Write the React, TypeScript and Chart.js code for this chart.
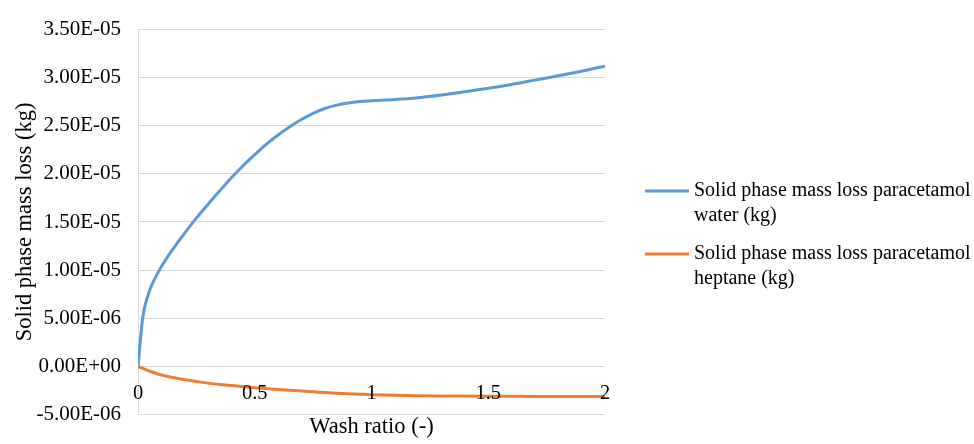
import React, { useEffect, useRef } from "react";
import { Chart, registerables } from "chart.js";

Chart.register(...registerables);

const washRatio = [0, 0.02, 0.05, 0.075, 0.1, 0.15, 0.2, 0.25, 0.3, 0.35, 0.4, 0.45, 0.5, 0.55, 0.6, 0.65, 0.7, 0.75, 0.8, 0.85, 0.9, 0.95, 1.0, 1.1, 1.2, 1.3, 1.4, 1.5, 1.6, 1.7, 1.8, 1.9, 2.0];
const lossWater = [0, 5.0e-6, 7.9e-6, 9.25e-6, 1.035e-5, 1.22e-5, 1.385e-5, 1.54e-5, 1.685e-5, 1.825e-5, 1.96e-5, 2.085e-5, 2.2e-5, 2.31e-5, 2.405e-5, 2.49e-5, 2.565e-5, 2.63e-5, 2.68e-5, 2.715e-5, 2.738e-5, 2.752e-5, 2.76e-5, 2.773e-5, 2.792e-5, 2.82e-5, 2.853e-5, 2.89e-5, 2.93e-5, 2.975e-5, 3.02e-5, 3.068e-5, 3.12e-5];
const lossHeptane = [0, -2.2e-7, -5.0e-7, -7.2e-7, -9.0e-7, -1.17e-6, -1.4e-6, -1.58e-6, -1.75e-6, -1.88e-6, -2.0e-6, -2.11e-6, -2.22e-6, -2.32e-6, -2.42e-6, -2.5e-6, -2.58e-6, -2.65e-6, -2.72e-6, -2.79e-6, -2.85e-6, -2.9e-6, -2.95e-6, -3.01e-6, -3.05e-6, -3.08e-6, -3.1e-6, -3.11e-6, -3.12e-6, -3.13e-6, -3.13e-6, -3.14e-6, -3.14e-6];
const seriesLabels = [
  ["Solid phase mass loss paracetamol", "water (kg)"],
  ["Solid phase mass loss paracetamol", "heptane (kg)"],
];
const seriesColors = ["#5B9BD5", "#ED7D31"];
const xTicks = [0, 0.5, 1, 1.5, 2];
const xTickLabels = ["0", "0.5", "1", "1.5", "2"];
const yMin = -5e-6;
const yMax = 3.5e-5;
const yStep = 5e-6;
const xTitle = "Wash ratio (-)";
const yTitle = "Solid phase mass loss (kg)";

const FONT = "'Liberation Serif', 'Times New Roman', serif";

function fmtSci(v: number): string {
  if (Math.abs(v) < 1e-12) return "0.00E+00";
  const s = v.toExponential(2);
  const [m, e] = s.split("e");
  const sign = e[0];
  const d = e.slice(1).padStart(2, "0");
  return m + "E" + sign + d;
}

const overlayPlugin = {
  id: "overlay",
  afterDraw(chart: any) {
    const ctx = chart.ctx;
    const xs = chart.scales.x;
    const ys = chart.scales.y;
    ctx.save();
    // x tick labels along zero line
    ctx.font = `20.5px ${FONT}`;
    ctx.fillStyle = "#000";
    ctx.textAlign = "center";
    ctx.textBaseline = "middle";
    const y0 = ys.getPixelForValue(0);
    xTicks.forEach((t, i) => {
      ctx.fillText(xTickLabels[i], xs.getPixelForValue(t), y0 + 27);
    });
    // legend
    const legendTops = [191, 254];
    ctx.font = `20px ${FONT}`;
    ctx.textAlign = "left";
    chart.data.datasets.forEach((ds: any, i: number) => {
      const ly = legendTops[i];
      ctx.strokeStyle = ds.borderColor;
      ctx.lineWidth = 3;
      ctx.beginPath();
      ctx.moveTo(645, ly);
      ctx.lineTo(689, ly);
      ctx.stroke();
      const lines: string[] = seriesLabels[i];
      lines.forEach((ln, j) => {
        ctx.fillText(ln, 694, ly + j * 25);
      });
    });
    ctx.restore();
  },
};

export default function App() {
  const ref = useRef<HTMLCanvasElement>(null);
  useEffect(() => {
    if (!ref.current) return;
    const mk = (ys: number[]) => washRatio.map((x, i) => ({ x, y: ys[i] }));
    const chart = new Chart(ref.current, {
      type: "line",
      data: {
        datasets: [
          {
            label: seriesLabels[0].join(" "),
            data: mk(lossWater),
            borderColor: seriesColors[0],
            backgroundColor: seriesColors[0],
            borderWidth: 3,
            pointRadius: 0,
            cubicInterpolationMode: "monotone",
            fill: false,
          },
          {
            label: seriesLabels[1].join(" "),
            data: mk(lossHeptane),
            borderColor: seriesColors[1],
            backgroundColor: seriesColors[1],
            borderWidth: 3,
            pointRadius: 0,
            cubicInterpolationMode: "monotone",
            fill: false,
          },
        ],
      },
      options: {
        animation: false,
        responsive: false,
        maintainAspectRatio: false,
        layout: { padding: { left: 0, right: 369, top: 24, bottom: 0 } },
        plugins: {
          legend: { display: false },
          tooltip: { enabled: false },
        },
        scales: {
          x: {
            type: "linear",
            min: 0,
            max: 2,
            grid: { display: false, drawTicks: false },
            border: { display: false },
            ticks: { display: false, stepSize: 0.5 },
            title: {
              display: true,
              text: xTitle,
              color: "#000",
              font: { family: FONT, size: 22.5 },
              padding: { top: 0, bottom: 3 },
            },
            afterFit: (s: any) => {
              s.height = 29;
            },
          },
          y: {
            type: "linear",
            min: yMin,
            max: yMax,
            grid: { color: "#D9D9D9", lineWidth: 1, drawTicks: false },
            border: { display: true, color: "#D9D9D9", width: 1 },
            ticks: {
              stepSize: yStep,
              padding: 17,
              color: "#000",
              font: { family: FONT, size: 21 },
              callback: (v: any) => fmtSci(Number(v)),
            },
            title: {
              display: true,
              text: yTitle,
              color: "#000",
              font: { family: FONT, size: 22.5 },
              padding: { top: 12, bottom: 0 },
            },
            afterFit: (s: any) => {
              s.width = 138;
            },
          },
        },
      },
      plugins: [overlayPlugin],
    });
    return () => chart.destroy();
  }, []);
  return (
    <div style={{ position: "absolute", left: 0, top: 0, width: 974, height: 444 }}>
      <canvas ref={ref} width={974} height={444} style={{ width: 974, height: 444 }} />
    </div>
  );
}
